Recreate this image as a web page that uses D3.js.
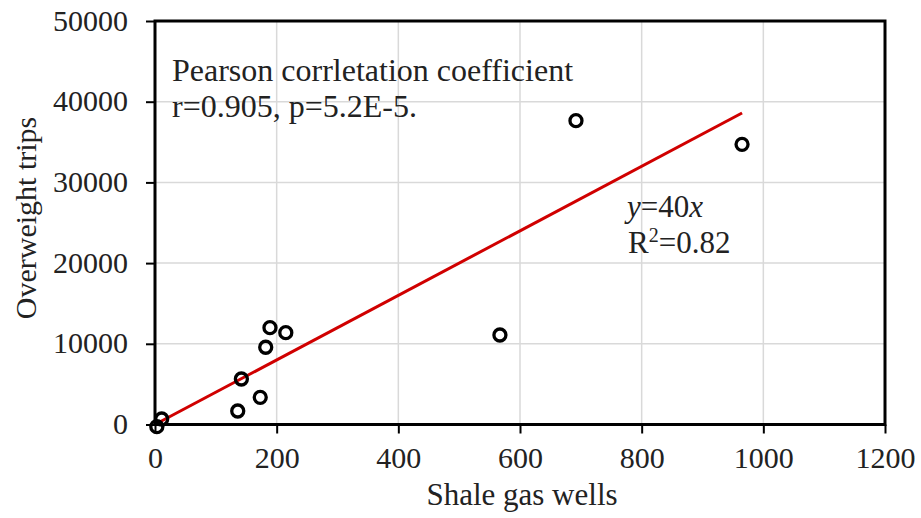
<!DOCTYPE html>
<html>
<head>
<meta charset="utf-8">
<script src="https://cdn.jsdelivr.net/npm/d3@7"></script>
<style>
  body { margin: 0; background: #fff; }
  text { font-family: "Liberation Serif", "Times New Roman", serif; fill: #222; }
</style>
</head>
<body>
<div id="chart"></div>
<script>
var width = 921, height = 518;
var margin = { top: 21, right: 36, bottom: 93.5, left: 155 };

// data
var wells = [3, 11, 136, 142, 173, 182, 189, 215, 567, 692, 965];
var trips = [-270, 680, 1670, 5640, 3370, 9570, 12000, 11380, 11090, 37650, 34720];
var xTicks = [0, 200, 400, 600, 800, 1000, 1200];
var yTicks = [0, 10000, 20000, 30000, 40000, 50000];
var slope = 40;

var svg = d3.select("#chart").append("svg").attr("width", width).attr("height", height);

var x = d3.scaleLinear().domain([0, 1200]).range([margin.left, width - margin.right]);
var y = d3.scaleLinear().domain([0, 50000]).range([height - margin.bottom, margin.top]);

// grid
svg.append("g").selectAll("line").data(xTicks.slice(1, -1)).enter().append("line")
    .attr("x1", function (d) { return x(d); }).attr("x2", function (d) { return x(d); })
    .attr("y1", y(0)).attr("y2", y(50000))
    .attr("stroke", "#d9d9d9").attr("stroke-width", 1.5);
svg.append("g").selectAll("line").data(yTicks.slice(1, -1)).enter().append("line")
    .attr("x1", x(0)).attr("x2", x(1200))
    .attr("y1", function (d) { return y(d); }).attr("y2", function (d) { return y(d); })
    .attr("stroke", "#d9d9d9").attr("stroke-width", 1.5);

// axes
var xAxis = svg.append("g")
    .attr("transform", "translate(0," + y(0) + ")")
    .call(d3.axisBottom(x).tickValues(xTicks).tickFormat(d3.format("d"))
        .tickSize(9).tickSizeOuter(0).tickPadding(13));
var yAxis = svg.append("g")
    .attr("transform", "translate(" + x(0) + ",0)")
    .call(d3.axisLeft(y).tickValues(yTicks).tickFormat(d3.format("d"))
        .tickSize(9).tickSizeOuter(0).tickPadding(18));

[xAxis, yAxis].forEach(function (a) {
    a.attr("font-family", "Liberation Serif").attr("font-size", 30);
    a.select(".domain").remove();
    a.selectAll("line").attr("stroke", "#000").attr("stroke-width", 2);
    a.selectAll("text").attr("fill", "#222");
});
yAxis.selectAll("text").attr("dy", "0.3em");
xAxis.selectAll("text").attr("dy", "0.72em");

// plot box
svg.append("rect")
    .attr("x", x(0)).attr("y", y(50000))
    .attr("width", x(1200) - x(0)).attr("height", y(0) - y(50000))
    .attr("fill", "none").attr("stroke", "#000").attr("stroke-width", 3);

// trend line y = 40x
var xMin = d3.min(wells), xMax = d3.max(wells);
svg.append("line")
    .attr("x1", x(xMin)).attr("y1", y(slope * xMin))
    .attr("x2", x(xMax)).attr("y2", y(slope * xMax))
    .attr("stroke", "#d00000").attr("stroke-width", 3);

// points
svg.append("g").selectAll("circle").data(wells).enter().append("circle")
    .attr("cx", function (d) { return x(d); })
    .attr("cy", function (d, i) { return y(trips[i]); })
    .attr("r", 6)
    .attr("fill", "none").attr("stroke", "#000").attr("stroke-width", 3.3);

// axis titles
svg.append("text").attr("x", 522).attr("y", 505)
    .attr("text-anchor", "middle").attr("font-size", "31px").text("Shale gas wells");
svg.append("text")
    .attr("transform", "translate(36,218) rotate(-90)")
    .attr("text-anchor", "middle").attr("font-size", "30px").text("Overweight trips");

// annotations
svg.append("text").attr("x", 172).attr("y", 81).attr("font-size", "32px")
    .text("Pearson corrletation coefficient");
svg.append("text").attr("x", 172).attr("y", 117).attr("font-size", "32px")
    .text("r=0.905, p=5.2E-5.");

var eq = svg.append("text").attr("x", 627).attr("y", 217).attr("font-size", "31px");
eq.append("tspan").attr("font-style", "italic").text("y");
eq.append("tspan").text("=40");
eq.append("tspan").attr("font-style", "italic").text("x");

var r2 = svg.append("text").attr("x", 628).attr("y", 253).attr("font-size", "31px");
r2.append("tspan").text("R");
r2.append("tspan").attr("font-size", "20px").attr("dy", "-11").text("2");
r2.append("tspan").attr("dy", "11").text("=0.82");
</script>
</body>
</html>
